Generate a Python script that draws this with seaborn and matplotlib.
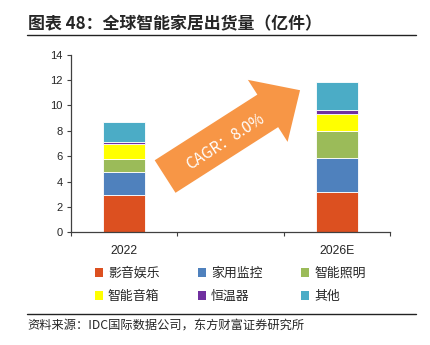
import matplotlib
matplotlib.use("Agg")
import matplotlib.pyplot as plt
from matplotlib.lines import Line2D
from matplotlib.patches import Patch
import numpy as np
import pandas as pd
import seaborn as sns

# Shipments of smart-home devices, 100 million units
years = ["2022", "2026E"]
slots = ["2022", " ", "2026E"]          # middle slot left empty
segments = ["影音娱乐", "家用监控", "智能照明", "智能音箱", "恒温器", "其他"]
entertainment = [2.92, 3.20]
camera = [1.86, 2.68]
lighting = [0.97, 2.12]
speaker = [1.18, 1.35]
thermostat = [0.21, 0.29]
other = [1.58, 2.23]
colors = ["#DC5020", "#4F81BD", "#9BBB59", "#FFFF00", "#7030A0", "#4BACC6"]

title = "图表 48：全球智能家居出货量（亿件）"
source = "资料来源：IDC国际数据公司，东方财富证券研究所"
cagr_label = "CAGR：8.0%"

series = [entertainment, camera, lighting, speaker, thermostat, other]
df = pd.DataFrame(
    [(y, seg, vals[i]) for seg, vals in zip(segments, series) for i, y in enumerate(years)],
    columns=["year", "segment", "value"],
)

sns.set_style("ticks")
plt.rcParams["font.family"] = ["Liberation Sans", "Noto Sans CJK SC", "DejaVu Sans"]
cjk = ["Noto Sans CJK SC", "DejaVu Sans"]

W, H = 431, 345
fig = plt.figure(figsize=(W / 100, H / 100), dpi=100)
ax = fig.add_axes([71 / W, 1 - 232.3 / H, 319 / W, 177.6 / H])

bottom = np.zeros(len(years))
for seg, col in zip(segments, colors):
    sub = df[df["segment"] == seg]
    sns.barplot(data=sub, x="year", y="value", order=slots, bottom=bottom,
                color=col, saturation=1, width=0.4, edgecolor="white",
                linewidth=0.6, errorbar=None, ax=ax)
    bottom = bottom + sub["value"].to_numpy()

ax.set_xlim(-0.5, 2.5)
ax.set_ylim(0, 14)
ax.set_yticks(np.arange(0, 15, 2))
ax.set_xlabel("")
ax.set_ylabel("")
ax.set_xticks(range(len(slots)))
ax.set_xticklabels(slots, fontsize=8.8)
ax.set_xticks([-0.5, 0.5, 1.5, 2.5], minor=True)
ax.tick_params(axis="x", which="major", length=0, pad=9)
ax.tick_params(axis="x", which="minor", length=3, width=0.8, color="#404040", direction="out")
ax.tick_params(axis="y", length=3, width=0.8, color="#404040", labelsize=8, pad=3)
for s in ["top", "right"]:
    ax.spines[s].set_visible(False)
for s in ["left", "bottom"]:
    ax.spines[s].set_color("#404040")
    ax.spines[s].set_linewidth(0.9)

# growth arrow with CAGR annotation
ax.annotate("", xy=(0.718, 0.800), xytext=(0.295, 0.314), xycoords="axes fraction",
            arrowprops=dict(arrowstyle="simple,head_length=2.76,head_width=5.3,tail_width=2.78",
                            mutation_scale=10, color="#F79646", shrinkA=0, shrinkB=0, lw=0))
ax.text(0.483, 0.508, cagr_label, transform=ax.transAxes, rotation=33,
        ha="center", va="center", color="white", fontsize=11, family=cjk)

# legend laid out row by row in three columns
handles = [Patch(facecolor=c, edgecolor="none", label=s) for s, c in zip(segments, colors)]
order = [0, 3, 1, 4, 2, 5]
fig.legend([handles[i] for i in order], [segments[i] for i in order], ncol=3,
           loc="upper left", bbox_to_anchor=(95 / W, 1 - 267 / H), frameon=False,
           prop={"family": cjk, "size": 9.3}, handlelength=0.6, handleheight=0.6,
           handletextpad=0.4, columnspacing=3.0, labelspacing=0.78, borderpad=0,
           borderaxespad=0)

# heading, rules and source note
fig.text(28 / W, 1 - 24 / H, title, fontsize=12.2, fontweight="bold", family=cjk,
         va="center", ha="left")
fig.add_artist(Line2D([27 / W, 416 / W], [1 - 34.5 / H] * 2, color="#222222", lw=1))
fig.add_artist(Line2D([27 / W, 416 / W], [1 - 313.5 / H] * 2, color="#222222", lw=1))
fig.text(27 / W, 1 - 326 / H, source, fontsize=8.8, family=cjk, va="center", ha="left")

fig.savefig("out.png", dpi=100)
